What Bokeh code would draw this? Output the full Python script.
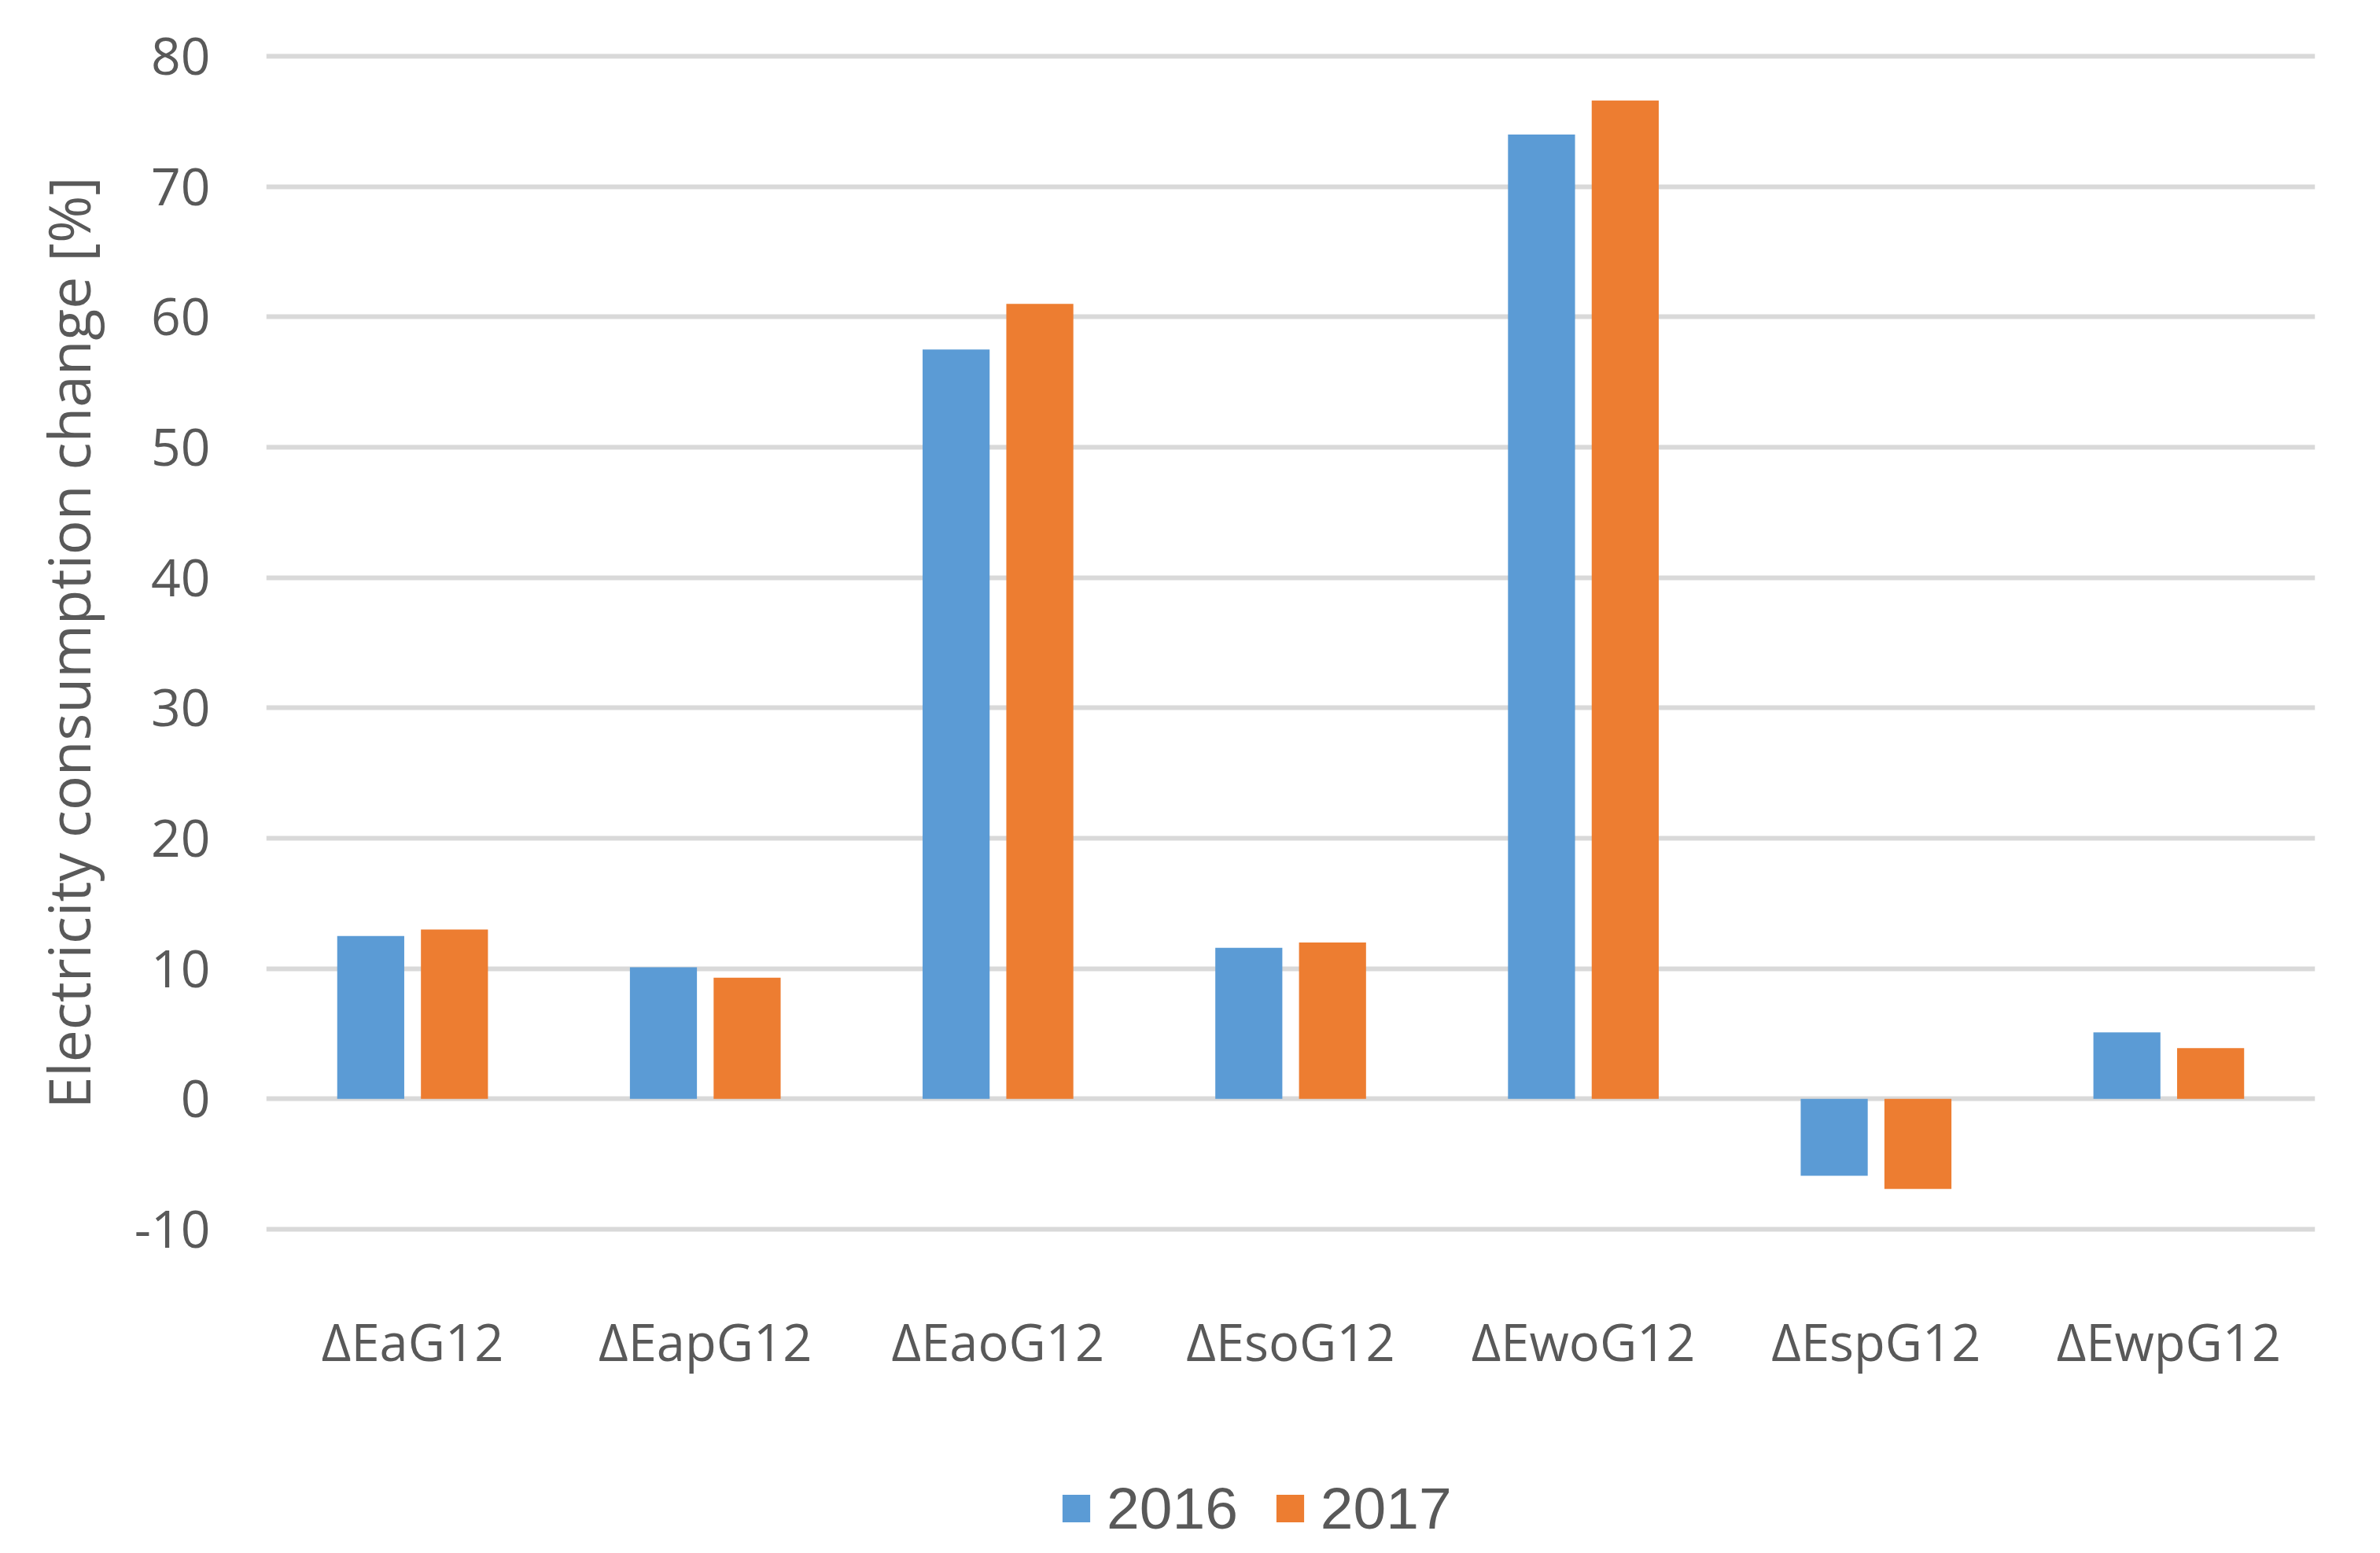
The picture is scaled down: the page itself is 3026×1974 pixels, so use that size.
from bokeh.plotting import figure
from bokeh.layouts import column
from bokeh.models import (FactorRange, Range1d, SingleIntervalTicker, Legend,
                          LegendItem, ColumnDataSource, PrintfTickFormatter)
from bokeh.transform import dodge
from bokeh.embed import file_html
from bokeh.resources import INLINE

categories = ["ΔEaG12", "ΔEapG12", "ΔEaoG12", "ΔEsoG12", "ΔEwoG12", "ΔEspG12", "ΔEwpG12"]
values_2016 = [12.5, 10.1, 57.5, 11.6, 74.0, -5.9, 5.1]
values_2017 = [13.0, 9.3, 61.0, 12.0, 76.6, -6.9, 3.9]
series_names = ["2016", "2017"]
y_title = "Electricity consumption change [%]"

COL_2016 = "#5B9BD5"
COL_2017 = "#ED7D31"
TXT = "#595959"

W, H1, H2 = 3010, 1850, 114
src = ColumnDataSource(dict(cat=categories, v2016=values_2016, v2017=values_2017))

p = figure(width=W, height=H1,
           x_range=FactorRange(*categories, range_padding=0),
           y_range=Range1d(-10.483, 80.483),
           output_backend="svg", toolbar_location=None,
           min_border_left=338, min_border_right=W - 2943,
           min_border_top=63, min_border_bottom=H1 - 1570)
p.outline_line_color = None
p.background_fill_color = "white"
p.border_fill_color = "white"

p.vbar(x=dodge("cat", -0.143, range=p.x_range), top="v2016", width=0.229,
       source=src, fill_color=COL_2016, line_color=None)
p.vbar(x=dodge("cat", 0.143, range=p.x_range), top="v2017", width=0.229,
       source=src, fill_color=COL_2017, line_color=None)

p.xgrid.visible = False
p.ygrid.grid_line_color = "#D9D9D9"
p.ygrid.grid_line_width = 6
p.ygrid.level = "underlay"

p.yaxis.ticker = SingleIntervalTicker(interval=10)
p.yaxis.formatter = PrintfTickFormatter(format="%d")
p.yaxis.axis_line_color = None
p.yaxis.major_tick_line_color = None
p.yaxis.minor_tick_line_color = None
p.yaxis.major_tick_out = 0
p.yaxis.major_tick_in = 0
p.yaxis.major_label_standoff = 67
p.yaxis.major_label_text_font = "Open Sans"
p.yaxis.major_label_text_font_size = "66px"
p.yaxis.major_label_text_color = TXT
p.yaxis.axis_label = y_title
p.yaxis.axis_label_text_font = "Open Sans"
p.yaxis.axis_label_text_font_size = "73px"
p.yaxis.axis_label_text_font_style = "normal"
p.yaxis.axis_label_text_color = TXT
p.yaxis.axis_label_standoff = 32

p.xaxis.axis_line_color = None
p.xaxis.major_tick_line_color = None
p.xaxis.major_tick_out = 0
p.xaxis.major_tick_in = 0
p.xaxis.major_label_standoff = 90
p.xaxis.major_label_text_font = "Open Sans"
p.xaxis.major_label_text_font_size = "65px"
p.xaxis.major_label_text_color = TXT

# legend strip below the chart (its frame is aligned with the chart frame)
p2 = figure(width=W, height=H2, output_backend="svg", toolbar_location=None,
            min_border=0, x_range=Range1d(0, 1), y_range=Range1d(0, 1))
p2.axis.visible = False
p2.grid.visible = False
p2.outline_line_color = None
p2.background_fill_alpha = 0
p2.border_fill_alpha = 0
# keys only: one zero-height bar per series so the legend swatch is drawn
lr1 = p2.vbar(x=[0.5], top=[0], width=0.01, fill_color=COL_2016, line_color=None)
lr2 = p2.vbar(x=[0.5], top=[0], width=0.01, fill_color=COL_2017, line_color=None)
legend = Legend(items=[LegendItem(label=series_names[0], renderers=[lr1]),
                       LegendItem(label=series_names[1], renderers=[lr2])],
                orientation="horizontal", location=(1008, 4),
                padding=0, margin=0, border_line_color=None,
                background_fill_alpha=0,
                glyph_width=44, glyph_height=44, label_standoff=17, spacing=44,
                label_text_font="Liberation Sans", label_text_font_size="75px",
                label_text_color=TXT)
p2.add_layout(legend)

open("out.html", "w").write(file_html(column(p, p2, spacing=0), INLINE))
